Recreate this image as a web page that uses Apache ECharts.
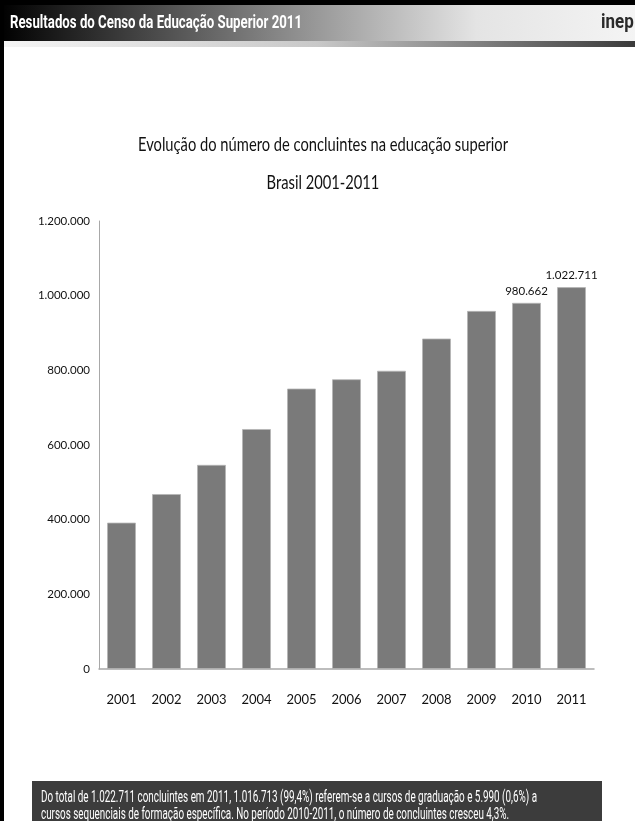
<!DOCTYPE html>
<html>
<head>
<meta charset="utf-8">
<script src="https://cdn.jsdelivr.net/npm/echarts@6/dist/echarts.min.js"></script>
<style>
html,body{margin:0;padding:0;background:#fff;}
#chart{width:635px;height:821px;}
</style>
</head>
<body>
<div id="chart"></div>
<script>
const years = ['2001','2002','2003','2004','2005','2006','2007','2008','2009','2010','2011'];
const concluintes = [392000, 468500, 546700, 642600, 751000, 776000, 798700, 885000, 959000, 980662, 1022711];
const labeledYears = ['2010','2011'];
const yTicks = [0, 200000, 400000, 600000, 800000, 1000000, 1200000];
const headerText = 'Resultados do Censo da Educação Superior 2011';
const titleLine1 = 'Evolução do número de concluintes na educação superior';
const titleLine2 = 'Brasil 2001-2011';
const footerLine1 = 'Do total de 1.022.711 concluintes em 2011, 1.016.713 (99,4%) referem-se a cursos de graduação e 5.990 (0,6%) a';
const footerLine2 = 'cursos sequenciais de formação específica. No período 2010-2011, o número de concluintes cresceu 4,3%.';

function fmt(v){ return String(Math.round(v)).replace(/\B(?=(\d{3})+(?!\d))/g,'.'); }

const ctx = document.createElement('canvas').getContext('2d');
function fitScale(text, font, target){ ctx.font = font; return target / ctx.measureText(text).width; }

const titleFont = '19px Lato';
const titleScale = fitScale(titleLine1, titleFont, 370);
const headFont = 'bold 19px Roboto';
const headScale = fitScale(headerText, headFont, 292);
const footFont = '16px Roboto';
const footScale = fitScale(footerLine1, footFont, 496);
const logoFont = 'bold 20px Roboto';

const chart = echarts.init(document.getElementById('chart'), null, {renderer:'canvas'});
const option = {
  animation:false,
  backgroundColor:'#ffffff',
  grid:{left:99, right:41, top:221, bottom:152},
  xAxis:{
    type:'category', data:years,
    axisLine:{lineStyle:{color:'#a8a8a8', width:1.5}},
    axisTick:{show:false},
    axisLabel:{fontFamily:'Lato', fontSize:13, color:'#111', margin:24}
  },
  yAxis:{
    type:'value', min:yTicks[0], max:yTicks[yTicks.length-1], interval:yTicks[1]-yTicks[0],
    axisLine:{show:true, lineStyle:{color:'#a8a8a8', width:1}},
    axisTick:{show:false},
    splitLine:{show:false},
    axisLabel:{fontFamily:'Lato', fontSize:11.5, color:'#111', margin:9, formatter:fmt}
  },
  series:[{
    type:'bar',
    data:concluintes.map((v,i)=>({value:v, label:{show:labeledYears.includes(years[i])}})),
    barCategoryGap:'36%',
    itemStyle:{color:'#7a7a7a', borderColor:'#b5b5b5', borderWidth:0.8},
    label:{position:'top', distance:6, fontFamily:'Lato', fontSize:11.5, color:'#111', formatter:p=>fmt(p.value)}
  }],
  graphic:[
    {type:'rect', shape:{x:0,y:0,width:635,height:5}, style:{fill:'#000'}},
    {type:'rect', shape:{x:0,y:5,width:635,height:36}, style:{fill:new echarts.graphic.LinearGradient(0,0,1,0,[{offset:0,color:'#000'},{offset:0.45,color:'#8a8a8a'},{offset:0.75,color:'#e4e4e4'},{offset:1,color:'#f4f4f4'}])}},
    {type:'rect', shape:{x:0,y:41,width:635,height:6}, style:{fill:new echarts.graphic.LinearGradient(0,0,1,0,[{offset:0,color:'#f6f6f6'},{offset:0.5,color:'#c8c8c8'},{offset:1,color:'#3a3a3a'}])}},
    {type:'text', x:10, y:23, scaleX:headScale, style:{text:headerText, fill:'#fff', font:headFont, textVerticalAlign:'middle'}},
    {type:'text', x:601, y:23, scaleX:0.85, style:{text:'inep', fill:'#2a2a2a', font:logoFont, textVerticalAlign:'middle'}},
    {type:'text', x:323, y:145, scaleX:titleScale, style:{text:titleLine1, fill:'#111', font:titleFont, textAlign:'center', textVerticalAlign:'middle'}},
    {type:'text', x:323, y:183, scaleX:titleScale, style:{text:titleLine2, fill:'#111', font:titleFont, textAlign:'center', textVerticalAlign:'middle'}},
    {type:'rect', shape:{x:0,y:0,width:4,height:821}, style:{fill:'#000'}},
    {type:'rect', shape:{x:32,y:781,width:570,height:40}, style:{fill:'#3c3c3c'}},
    {type:'text', x:41, y:798, scaleX:footScale, style:{text:footerLine1, fill:'#fff', font:footFont, textVerticalAlign:'middle'}},
    {type:'text', x:41, y:815, scaleX:footScale, style:{text:footerLine2, fill:'#fff', font:footFont, textVerticalAlign:'middle'}}
  ]
};
chart.setOption(option);
</script>
</body>
</html>
